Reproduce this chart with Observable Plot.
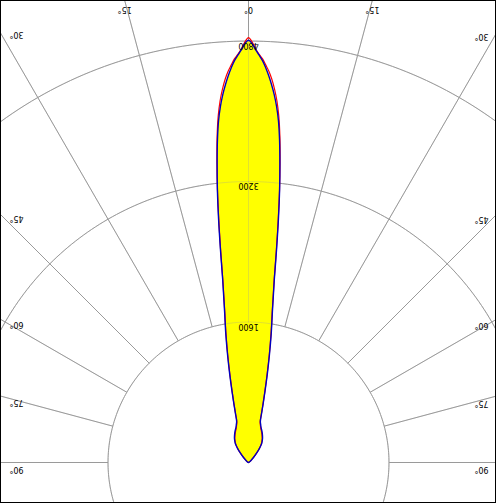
<!DOCTYPE html>
<html><head><meta charset="utf-8">
<script src="https://cdn.jsdelivr.net/npm/d3@7"></script>
<script src="https://cdn.jsdelivr.net/npm/@observablehq/plot@0.6"></script>
<style>body{margin:0;background:#fff}#chart svg{display:block}</style>
</head><body><div id="chart"></div>
<script>
// Photometric data (gamma angle in degrees, luminous intensity in cd)
const gammaDeg    = [0, 0.5, 1, 1.5, 2, 2.5, 3, 3.5, 4, 4.5, 5, 5.5, 6, 6.5, 7, 7.5, 8, 8.5, 9, 9.5, 10, 11, 12, 13, 14, 15, 16, 18, 20, 22.5, 25, 27.5, 30, 32.5, 35, 37.5, 40, 45, 50, 60, 70, 80, 90];
const intensityC0 = [4810, 4770, 4700, 4640, 4580, 4500, 4410, 4310, 4200, 4070, 3910, 3690, 3420, 3130, 2800, 2450, 2120, 1910, 1740, 1610, 1490, 1250, 1030, 840, 690, 570, 490, 450, 420, 395, 370, 345, 320, 290, 260, 210, 160, 80, 40, 15, 5, 0, 0];
const intensityC90= [4840, 4790, 4710, 4650, 4600, 4530, 4460, 4370, 4260, 4130, 3960, 3730, 3440, 3120, 2770, 2420, 2100, 1890, 1720, 1590, 1470, 1230, 1010, 825, 680, 560, 480, 440, 410, 385, 360, 335, 312, 282, 252, 205, 155, 78, 38, 14, 5, 0, 0];
const ringValues  = [1600, 3200, 4800];
const ringLabels  = ["1600", "3200", "4800"];
const angleTicks  = [-90, -75, -60, -45, -30, -15, 0, 15, 30, 45, 60, 75, 90];
const angleLabels = ["90°", "75°", "60°", "45°", "30°", "15°", "0°", "15°", "30°", "45°", "60°", "75°", "90°"];

const W = 496, H = 504;
const k = 0.0878;            // pixels per cd
const cx = 248, cy = 462;    // pole position in pixels
const mR = 1, mB = 2;
const xDomain = [-cx / k, (W - mR - cx) / k];
const yDomain = [-(H - mB - cy) / k, cy / k];
const rad = d => d * Math.PI / 180;
const polar = (g, r) => ({x: r * Math.sin(rad(g)), y: r * Math.cos(rad(g))});

function outline(I) {
  const left = gammaDeg.map((g, i) => polar(-g, I[i])).reverse();
  const right = gammaDeg.slice(1).map((g, i) => polar(g, I[i + 1]));
  return left.concat(right);
}
const curveC0 = outline(intensityC0);
const curveC90 = outline(intensityC90);

const rings = ringValues.flatMap(r => d3.range(0, 361, 1).map(a => ({...polar(a, r), ring: r})));
const spokes = angleTicks.map(a => {
  const p1 = polar(a, ringValues[0]), p2 = polar(a, 9000);
  return {x1: p1.x, y1: p1.y, x2: p2.x, y2: p2.y};
});
const ringText = ringValues.map((r, i) => ({x: 0, y: r - 4.5 / k, text: ringLabels[i]}));

// angle labels placed where each spoke leaves the frame
const angleText = angleTicks.map((a, i) => {
  const s = Math.sin(rad(a)), c = Math.cos(rad(a));
  const ts = [];
  if (c > 1e-9) ts.push(cy / c);
  if (s < -1e-9) ts.push(cx / -s);
  if (s > 1e-9) ts.push((W - mR - cx) / s);
  const t = Math.min(...ts);
  let px = cx + t * s, py = cy - t * c;
  if (py < 1) { py = 9.5; }
  else { px = s < 0 ? 16 : 481; py += 7.5 * s * s; }
  return {x: (px - cx) / k, y: (cy - py) / k, text: angleLabels[i]};
});

const gridStyle = {stroke: "#9a9a9a", strokeWidth: 1, clip: true};
const chart = Plot.plot({
  width: W, height: H,
  marginTop: 0, marginLeft: 0, marginRight: mR, marginBottom: mB,
  x: {domain: xDomain, axis: null},
  y: {domain: yDomain, axis: null},
  marks: [
    Plot.line(rings, {x: "x", y: "y", z: "ring", ...gridStyle}),
    Plot.link(spokes, {x1: "x1", y1: "y1", x2: "x2", y2: "y2", ...gridStyle}),
    Plot.line(curveC0, {x: "x", y: "y", fill: "#ffff00", stroke: "none", curve: "catmull-rom"}),
    Plot.line(rings, {x: "x", y: "y", z: "ring", ...gridStyle, strokeOpacity: 0.3}),
    Plot.link(spokes, {x1: "x1", y1: "y1", x2: "x2", y2: "y2", ...gridStyle, strokeOpacity: 0.3}),
    Plot.line(curveC90, {x: "x", y: "y", stroke: "#ff0000", strokeWidth: 1.2, curve: "catmull-rom"}),
    Plot.line(curveC0, {x: "x", y: "y", stroke: "#0000c0", strokeWidth: 1.4, curve: "catmull-rom"}),
    Plot.text(ringText, {x: "x", y: "y", text: "text", rotate: 180, fontSize: 8, fill: "#000", fontFamily: "DejaVu Sans"}),
    Plot.text(angleText, {x: "x", y: "y", text: "text", rotate: 180, fontSize: 8, fill: "#000", fontFamily: "DejaVu Sans"}),
    Plot.frame({stroke: "#000", strokeWidth: 1})
  ]
});
document.getElementById("chart").append(chart);
</script>
</body></html>
